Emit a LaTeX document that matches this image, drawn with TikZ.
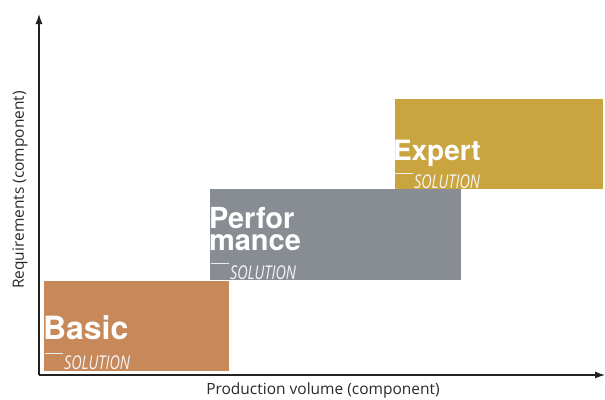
\documentclass[tikz,border=0pt]{standalone}
\usepackage{fontspec}
\setmainfont{Open Sans}
\newfontfamily\headfont{TeX Gyre Heros}
\newfontfamily\solfont{Open Sans}
\usetikzlibrary{arrows.meta}
\definecolor{basiccol}{HTML}{C8895A}
\definecolor{perfcol}{HTML}{878D92}
\definecolor{expcol}{HTML}{C9A43F}
\definecolor{axiscol}{HTML}{222222}
\definecolor{txtcol}{HTML}{2A2A2A}
\tikzset{
  box/.style={inner sep=0pt, outer sep=0pt, anchor=north west, draw=none},
  head/.style={inner sep=0pt, outer sep=0pt, anchor=base west, text=white, font=\headfont\bfseries},
  sol/.style={inner sep=0pt, outer sep=0pt, anchor=base west, text=white!92!gray, font=\solfont\itshape\fontsize{19}{19}\selectfont},
  solline/.style={draw=white!85!gray, line width=0.7pt},
  axis/.style={draw=axiscol, line width=1.1pt, -{Latex[length=10pt,width=7pt]}},
  axlabel/.style={inner sep=0pt, text=txtcol, font=\fontsize{15.5}{15.5}\selectfont}
}
\begin{document}
\begin{tikzpicture}[x=1pt,y=-1pt]
\useasboundingbox (0,0) rectangle (605,399);
% boxes
\node[box, fill=basiccol, minimum width=185pt, minimum height=90pt] (basic) at (44,281) {};
\node[box, fill=perfcol, minimum width=251pt, minimum height=91pt] (perf) at (210,189) {};
\node[box, fill=expcol, minimum width=208pt, minimum height=90pt] (exp) at (395,99) {};
% Basic
\node[head, font=\headfont\bfseries\fontsize{32}{32}\selectfont] (basict) at (43,339) {Basic};
\draw[solline] (45,353) -- (63,353);
\node[sol] (basics) at (64,369) {\scalebox{0.76}[1]{SOLUTION}};
% Performance
\node[head, font=\headfont\bfseries\fontsize{29}{22}\selectfont, align=left] (perft) at (209,250) {Perfor\\mance};
\draw[solline] (211,263) -- (229,263);
\node[sol] (perfs) at (230,279) {\scalebox{0.76}[1]{SOLUTION}};
% Expert
\node[head, font=\headfont\bfseries\fontsize{28}{28}\selectfont] (expt) at (393,160) {Expert};
\draw[solline] (395,173) -- (413,173);
\node[sol] (exps) at (414,188) {\scalebox{0.76}[1]{SOLUTION}};
% axes
\coordinate (o) at (39,375);
\coordinate (ytop) at (39,14);
\coordinate (xend) at (605,375);
\draw[axis] (o) -- (ytop);
\draw[axis] (o) -- (xend);
\node[axlabel, rotate=90, anchor=center] (ylab) at (20,190) {Requirements (component)};
\node[axlabel, anchor=base] (xlab) at (323,394) {Production volume (component)};
\end{tikzpicture}
\end{document}
